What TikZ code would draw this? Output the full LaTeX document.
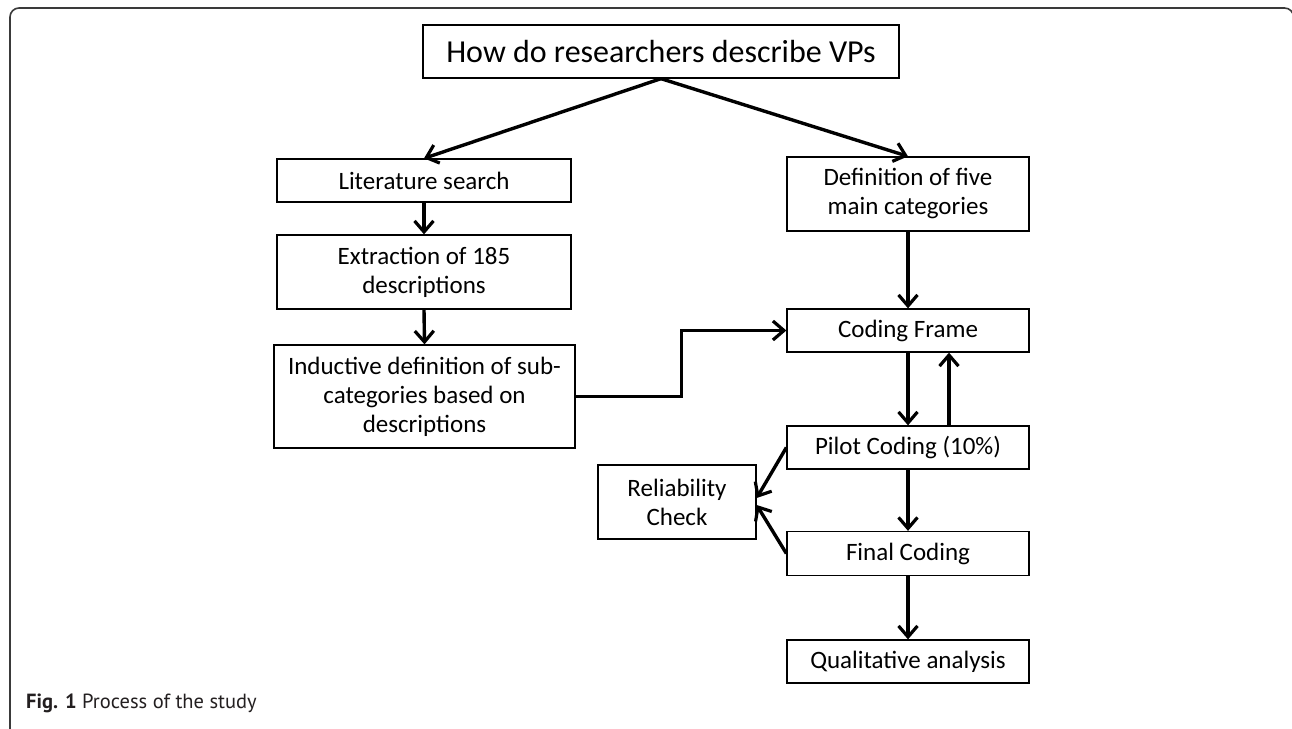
\documentclass[tikz,border=0pt]{standalone}
\usepackage{fontspec}
\setmainfont{Carlito}
\newfontfamily\capfont{PT Sans}
\usetikzlibrary{arrows.meta}
\definecolor{framegray}{HTML}{3A3A3A}
\definecolor{captext}{HTML}{231F20}
\begin{document}
\begin{tikzpicture}[x=1pt,y=-1pt,
  box/.style={draw=black, line width=1.3pt, inner sep=0pt, align=center,
    font=\fontsize{25}{29}\selectfont},
  arr/.style={line width=3.4pt, -{Straight Barb[length=11pt,width=19pt,line width=3.2pt]}}]
\useasboundingbox (0,0) rectangle (1292,728);
\begin{scope}
\clip (0,0) rectangle (1292,728);
\draw[framegray, line width=1.6pt, rounded corners=9pt] (10,8) rectangle (1293.5,738);
\end{scope}
% nodes
\node[box, minimum width=476pt, minimum height=53pt, font=\fontsize{32}{37}\selectfont] (top) at (661,51.5) {How do researchers describe VPs};
\node[box, minimum width=294pt, minimum height=43pt] (lit) at (424,180.5) {Literature search};
\node[box, minimum width=294pt, minimum height=74pt] (ext) at (424,272) {Extraction of 185\\descriptions};
\node[box, minimum width=301pt, minimum height=103pt] (ind) at (424.5,396.5) {Inductive definition of sub-\\categories based on\\descriptions};
\node[box, minimum width=242pt, minimum height=74pt] (def) at (908,194) {Definition of five\\main categories};
\node[box, minimum width=242pt, minimum height=43pt] (cf) at (908,330.5) {Coding Frame};
\node[box, minimum width=242pt, minimum height=43pt] (pilot) at (908,447.5) {Pilot Coding (10\%)};
\node[box, minimum width=242pt, minimum height=44pt] (final) at (908,553.5) {Final Coding};
\node[box, minimum width=242pt, minimum height=43pt] (qual) at (908,661.5) {Qualitative analysis};
\node[box, minimum width=158pt, minimum height=74pt] (rel) at (677,502) {Reliability\\Check};
% connectors
\draw[arr] (top.south) -- (lit.north);
\draw[arr] (top.south) -- (def.north);
\draw[arr] (lit.south) -- (ext.north);
\draw[arr] (ext.south) -- (ind.north);
\draw[arr] (def.south) -- (cf.north);
\draw[arr] (ind.east) -- ++(106,0) |- (cf.west);
\draw[arr] (cf.south) -- (pilot.north);
\draw[arr] ([xshift=41pt]pilot.north) -- ([xshift=41pt]cf.south);
\draw[arr] (pilot.south) -- (final.north);
\draw[arr] (final.south) -- (qual.north);
\draw[arr] (pilot.west) -- ([yshift=4pt]rel.east);
\draw[arr] (final.west) -- ([yshift=-3pt]rel.east);
% caption
\node[anchor=base west, inner sep=0pt, text=captext, font=\capfont\fontsize{20.5}{24}\selectfont] (cap) at (26,708) {\textbf{Fig. 1} Process of the study};
\end{tikzpicture}
\end{document}
